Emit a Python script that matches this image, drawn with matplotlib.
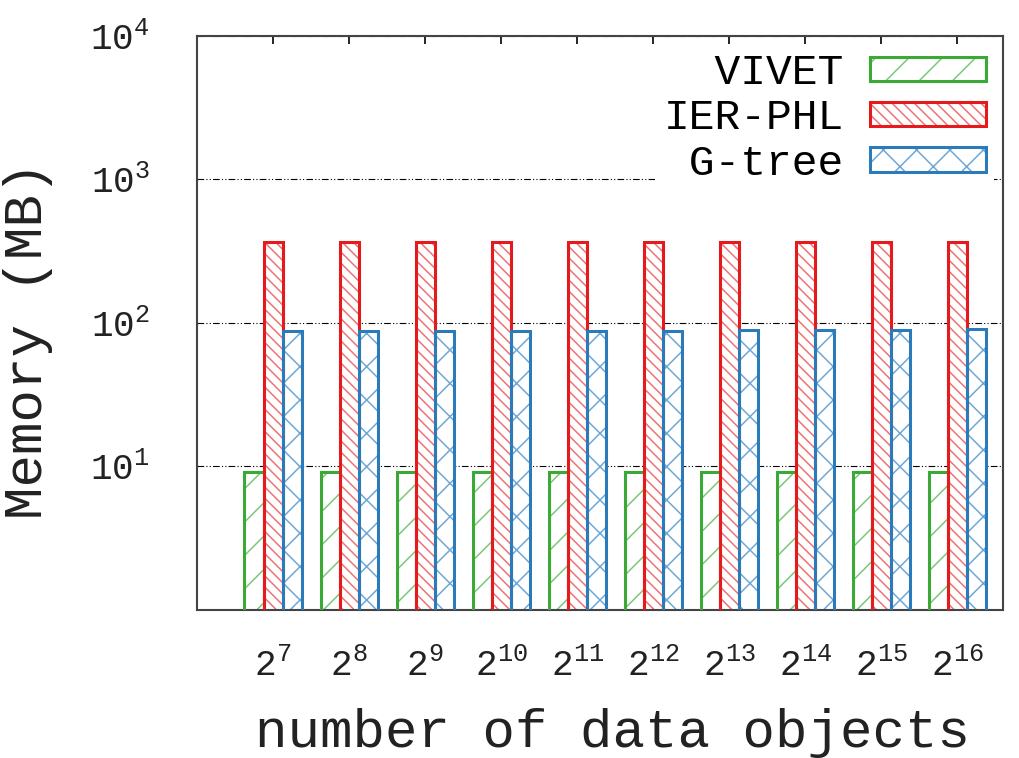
import numpy as np
import matplotlib
matplotlib.use("Agg")
import matplotlib.pyplot as plt
from matplotlib.legend_handler import HandlerTuple

plt.rcParams['font.family'] = ['Liberation Mono', 'DejaVu Sans Mono']
plt.rcParams['mathtext.default'] = 'regular'
plt.rcParams['hatch.linewidth'] = 1.1

# data
exponents = [7, 8, 9, 10, 11, 12, 13, 14, 15, 16]
vivet = [9.2, 9.2, 9.2, 9.2, 9.2, 9.2, 9.2, 9.2, 9.2, 9.2]
ier_phl = [367, 367, 367, 367, 367, 367, 367, 367, 367, 367]
gtree = [88, 88, 88, 88, 88, 88, 90, 90, 90, 91]

series = [
    ("VIVET", vivet, '#3aa935', '#7cc878', '/'),
    ("IER-PHL", ier_phl, '#e41a1c', '#ee7374', '\\\\\\'),
    ("G-tree", gtree, '#2b7bba', '#6fa8d6', 'x'),
]
labels_pad = ["  VIVET", "IER-PHL", " G-tree"]

fig = plt.figure(figsize=(10.19, 7.58), dpi=100)
ax = fig.add_axes([0.1933, 0.1953, 0.7910, 0.7572])

x = np.arange(len(exponents))
width = 0.25
handles = []
for i, (name, vals, col, light, hatch) in enumerate(series):
    pos = x + (i - 1) * width
    h1 = ax.bar(pos, vals, width, color='white', edgecolor=light,
                hatch=hatch, linewidth=0, zorder=2)
    h2 = ax.bar(pos, vals, width, fill=False, edgecolor=col,
                linewidth=2.2, zorder=3)
    handles.append((h1, h2))

ax.set_yscale('log')
ax.set_ylim(1, 1e4)
ax.set_xlim(-1, 9.6)
ax.set_yticks([10, 100, 1000, 10000])
ax.yaxis.set_minor_locator(matplotlib.ticker.NullLocator())
ax.set_xticks(x)
ax.set_xticklabels(['$2^{%d}$' % e for e in exponents], fontsize=26)
ax.tick_params(axis='y', length=0, pad=34, labelsize=26, labelcolor='#222222')
ax.tick_params(axis='x', direction='in', top=True, length=6, width=1.2,
               pad=28, labelcolor='#222222')

ax.yaxis.grid(True, which='major', color='black', linewidth=0.8,
              linestyle=(0, (6, 2, 1, 2, 1, 2)))
ax.set_axisbelow(True)

for s in ax.spines.values():
    s.set_color('#444444')
    s.set_linewidth(1.5)

ax.set_xlabel('number of data objects', fontsize=39, color='#222222')
ax.xaxis.set_label_coords(0.515, -0.17)
ax.set_ylabel('Memory (MB)', fontsize=39, color='#222222')
ax.yaxis.set_label_coords(-0.178, 0.47)

leg = ax.legend([h for h in handles], labels_pad, loc='upper right',
                markerfirst=False, frameon=True, fontsize=31,
                handler_map={tuple: HandlerTuple(ndivide=1)},
                handlelength=2.7, handleheight=0.5, labelspacing=0.12,
                borderaxespad=0.2, borderpad=0.2, handletextpad=0.6)
leg.get_frame().set_facecolor('white')
leg.get_frame().set_edgecolor('none')
leg.get_frame().set_alpha(1)
leg.set_zorder(5)

fig.savefig('out.png', dpi=100)
